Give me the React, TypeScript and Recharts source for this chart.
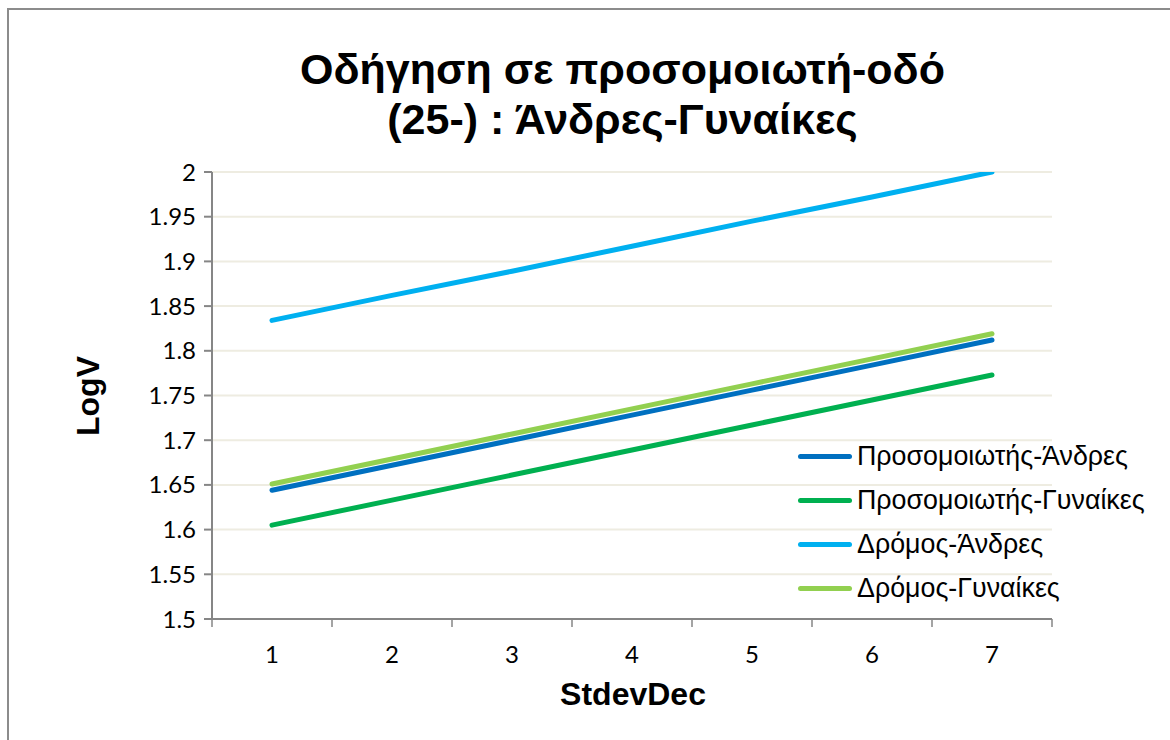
import { LineChart, Line, XAxis, YAxis, CartesianGrid, Legend } from "recharts";

const steps = [1, 2, 3, 4, 5, 6, 7];
const simMen = [1.644, 1.672, 1.7, 1.728, 1.756, 1.784, 1.812];
const simWomen = [1.605, 1.633, 1.661, 1.689, 1.717, 1.745, 1.773];
const roadMen = [1.834, 1.862, 1.889, 1.917, 1.945, 1.972, 2.0];
const roadWomen = [1.651, 1.679, 1.707, 1.735, 1.763, 1.791, 1.819];
const yTicks = [1.5, 1.55, 1.6, 1.65, 1.7, 1.75, 1.8, 1.85, 1.9, 1.95, 2];

const series = [
  { key: "simMen", name: "Προσομοιωτής-Άνδρες", color: "#0070C0" },
  { key: "simWomen", name: "Προσομοιωτής-Γυναίκες", color: "#00B050" },
  { key: "roadMen", name: "Δρόμος-Άνδρες", color: "#00B0F0" },
  { key: "roadWomen", name: "Δρόμος-Γυναίκες", color: "#92D050" },
];

const data = steps.map((x, i) => ({
  x,
  simMen: simMen[i],
  simWomen: simWomen[i],
  roadMen: roadMen[i],
  roadWomen: roadWomen[i],
}));

const AXIS = "#868686";
const GRID = "#EEECE1";
const HALF_STEP = 60; // half a category width in px
const SANS = "'Liberation Sans', Arial, sans-serif";

function XTick(props: any) {
  const { x, y, payload } = props;
  const top = y - 8;
  return (
    <g>
      <line x1={x - HALF_STEP} x2={x - HALF_STEP} y1={top} y2={top + 8} stroke={AXIS} strokeWidth={1.5} />
      {payload.value === 7 && (
        <line x1={x + HALF_STEP} x2={x + HALF_STEP} y1={top} y2={top + 8} stroke={AXIS} strokeWidth={1.5} />
      )}
      <text x={x} y={y + 36} textAnchor="middle" fill="#000" fontSize={24} fontFamily="Lato, sans-serif">
        {payload.value}
      </text>
    </g>
  );
}

// legend in the original series order
function LegendBox() {
  return (
    <div>
      {series.map((s) => (
        <div key={s.key} style={{ display: "flex", alignItems: "center", height: 44 }}>
          <span
            style={{
              display: "inline-block",
              width: 54,
              height: 5,
              borderRadius: 3,
              background: s.color,
              marginRight: 5,
            }}
          />
          <span style={{ fontFamily: SANS, fontSize: 26.8, color: "#000", whiteSpace: "nowrap" }}>{s.name}</span>
        </div>
      ))}
    </div>
  );
}

export default function App() {
  return (
    <div style={{ position: "absolute", left: 0, top: 0, width: 1170, height: 740, background: "#fff", overflow: "hidden" }}>
      <div
        style={{
          position: "absolute",
          left: 7,
          top: 8,
          width: 1200,
          height: 800,
          borderLeft: "2px solid #8c8c8c",
          borderTop: "2px solid #8c8c8c",
        }}
      />
      <div
        style={{
          position: "absolute",
          left: 0,
          width: 1245,
          top: 44,
          textAlign: "center",
          fontFamily: SANS,
          fontWeight: 700,
          fontSize: 43,
          lineHeight: "50px",
          color: "#000",
          whiteSpace: "nowrap",
        }}
      >
        Οδήγηση σε προσομοιωτή-οδό
        <br />
        (25-) : Άνδρες-Γυναίκες
      </div>
      <div
        style={{
          position: "absolute",
          left: 88,
          top: 396,
          transform: "translate(-50%, -50%) rotate(-90deg)",
          fontFamily: SANS,
          fontWeight: 700,
          fontSize: 32,
          color: "#000",
          whiteSpace: "nowrap",
        }}
      >
        LogV
      </div>
      <div
        style={{
          position: "absolute",
          left: 633,
          top: 694,
          transform: "translate(-50%, -50%)",
          fontFamily: SANS,
          fontWeight: 700,
          fontSize: 32,
          color: "#000",
          whiteSpace: "nowrap",
        }}
      >
        StdevDec
      </div>
      <LineChart
        width={1170}
        height={740}
        data={data}
        margin={{ top: 172, right: 118, bottom: 81, left: 152 }}
        style={{ position: "absolute", left: 0, top: 0 }}
      >
        <CartesianGrid vertical={false} stroke={GRID} strokeWidth={2} />
        <XAxis
          dataKey="x"
          type="number"
          domain={[0.5, 7.5]}
          ticks={steps}
          height={40}
          tickSize={8}
          tickMargin={0}
          tickLine={false}
          stroke={AXIS}
          strokeWidth={2}
          tick={<XTick />}
        />
        <YAxis
          type="number"
          domain={[1.5, 2]}
          ticks={yTicks}
          width={60}
          tickSize={8}
          tickMargin={8}
          stroke={AXIS}
          strokeWidth={2}
          interval={0}
          allowDataOverflow
          tick={{ fill: "#000", fontSize: 24, fontFamily: "Lato, sans-serif" }}
        />
        <Legend
          layout="vertical"
          align="center"
          verticalAlign="middle"
          content={<LegendBox />}
          wrapperStyle={{ position: "absolute", left: 798, top: 434, width: 380 }}
        />
        {series.map((s) => (
          <Line
            key={s.key}
            type="linear"
            dataKey={s.key}
            name={s.name}
            stroke={s.color}
            strokeWidth={5}
            strokeLinecap="round"
            dot={false}
            activeDot={false}
            isAnimationActive={false}
          />
        ))}
      </LineChart>
    </div>
  );
}
